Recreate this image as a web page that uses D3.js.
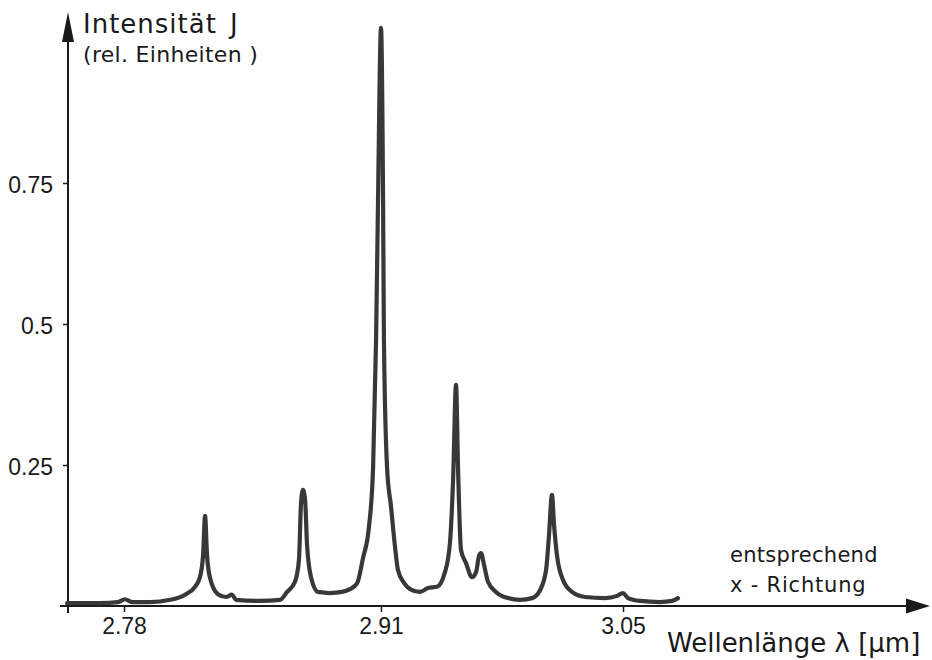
<!DOCTYPE html>
<html>
<head>
<meta charset="utf-8">
<script src="https://cdn.jsdelivr.net/npm/d3@7"></script>
<style>
  body { margin: 0; background: #fff; }
  svg { display: block; }
</style>
</head>
<body>
<div id="chart"></div>
<script>
"use strict"

// spectrum: wavelength (µm) and relative intensity
const wavelength = [
  2.7512, 2.7679, 2.7770, 2.7805, 2.7840, 2.7932, 2.8033, 2.8109, 2.8159, 2.8184,
  2.8200, 2.8210, 2.8220, 2.8235, 2.8275, 2.8316, 2.8346, 2.8367, 2.8488, 2.8589,
  2.8625, 2.8665, 2.8685, 2.8695, 2.8705, 2.8716, 2.8726, 2.8746, 2.8781, 2.8842,
  2.8903, 2.8943, 2.8979, 2.9009, 2.9039, 2.9060, 2.9075, 2.9085, 2.9100, 2.9112,
  2.9117, 2.9135, 2.9158, 2.9181, 2.9198, 2.9233, 2.9268, 2.9326, 2.9372, 2.9424,
  2.9470, 2.9499, 2.9517, 2.9534, 2.9546, 2.9563, 2.9592, 2.9626, 2.9650, 2.9667,
  2.9679, 2.9696, 2.9719, 2.9765, 2.9835, 2.9904, 2.9974, 3.0020, 3.0055, 3.0072,
  3.0089, 3.0101, 3.0118, 3.0153, 3.0205, 3.0280, 3.0396, 3.0466, 3.0500, 3.0529,
  3.0599, 3.0714, 3.0784, 3.0818
]
const intensity = [
  0.005, 0.005, 0.007, 0.012, 0.007, 0.007, 0.011, 0.020, 0.034, 0.051,
  0.090, 0.160, 0.090, 0.050, 0.021, 0.016, 0.020, 0.011, 0.009, 0.011,
  0.025, 0.043, 0.082, 0.179, 0.206, 0.188, 0.108, 0.051, 0.025, 0.023,
  0.025, 0.030, 0.040, 0.085, 0.140, 0.246, 0.472, 0.720, 1.025, 0.720,
  0.472, 0.246, 0.176, 0.105, 0.064, 0.041, 0.030, 0.025, 0.032, 0.034,
  0.060, 0.112, 0.223, 0.392, 0.241, 0.099, 0.076, 0.051, 0.060, 0.089,
  0.094, 0.073, 0.043, 0.025, 0.014, 0.011, 0.014, 0.028, 0.064, 0.126,
  0.197, 0.144, 0.090, 0.046, 0.025, 0.016, 0.014, 0.018, 0.023, 0.014,
  0.009, 0.007, 0.009, 0.014
]

const xTicks = [2.78, 2.91, 3.05]
const yTicks = [0.25, 0.5, 0.75]

const width = 932
const height = 660

// the printed tick spacing is not even, so the x scale is piecewise
const x = d3.scaleLinear()
  .domain(xTicks)
  .range([124, 381, 623])

const y = d3.scaleLinear()
  .domain([0, 1])
  .range([606, 42])

const svg = d3.select("#chart").append("svg")
  .attr("width", width)
  .attr("height", height)
  .attr("viewBox", `0,0,${width},${height}`)

const ink = "#1a1a1a"
const yAxisX = 68

// axes with arrows
svg.append("line")
  .attr("x1", 60).attr("x2", 910)
  .attr("y1", y(0)).attr("y2", y(0))
  .attr("stroke", ink).attr("stroke-width", 2)

svg.append("path")
  .attr("d", `M906,${y(0) - 7.5} L930,${y(0)} L906,${y(0) + 7.5} Z`)
  .attr("fill", ink)

svg.append("line")
  .attr("x1", yAxisX).attr("x2", yAxisX)
  .attr("y1", 613).attr("y2", 40)
  .attr("stroke", ink).attr("stroke-width", 2)

svg.append("path")
  .attr("d", `M${yAxisX - 6},42 L${yAxisX},12 L${yAxisX + 6},42 Z`)
  .attr("fill", ink)

const axisLeft = d3.axisLeft(y)
  .tickValues(yTicks)
  .tickSize(5)
  .tickPadding(10)
  .tickFormat(d => String(d))

const axisBottom = d3.axisBottom(x)
  .tickValues(xTicks)
  .tickSize(6)
  .tickPadding(6)
  .tickFormat(d => String(d))

const gy = svg.append("g")
  .attr("transform", `translate(${yAxisX} 0)`)
  .call(axisLeft)

const gx = svg.append("g")
  .attr("transform", `translate(0 ${y(0)})`)
  .call(axisBottom)

for (const g of [gx, gy]) {
  g.select(".domain").remove()
  g.selectAll("line").attr("stroke", ink).attr("stroke-width", 1.5)
  g.selectAll("text")
    .attr("fill", ink)
    .style("font-family", "'Liberation Sans', Arial, sans-serif")
    .style("font-size", "23px")
}
gy.selectAll("text").attr("dy", "0.42em")

// spectrum
const points = wavelength.map((w, i) => [w, intensity[i]])

const line = d3.line()
  .x(d => x(d[0]))
  .y(d => y(d[1]))
  .curve(d3.curveMonotoneX)

svg.append("path")
  .datum(points)
  .attr("d", line)
  .attr("fill", "none")
  .attr("stroke", "#383838")
  .attr("stroke-width", 4.2)
  .attr("stroke-linejoin", "round")
  .attr("stroke-linecap", "round")

// labels
const labelFont = "'DejaVu Sans', sans-serif"

function label(txt, lx, ly, size, spacing) {
  svg.append("text")
    .attr("x", lx)
    .attr("y", ly)
    .attr("fill", ink)
    .style("font-family", labelFont)
    .style("font-size", size + "px")
    .style("letter-spacing", (spacing || 0) + "px")
    .text(txt)
}

label("Intensität", 83, 33, 26, 1)
label("J", 230, 33, 26)
label("(rel. Einheiten )", 83, 62, 22, 0.3)
label("entsprechend", 730, 562, 21, 0.3)
label("x - Richtung", 730, 592, 21, 0.8)
label("Wellenlänge λ [μm]", 667, 652, 26)
</script>
</body>
</html>
